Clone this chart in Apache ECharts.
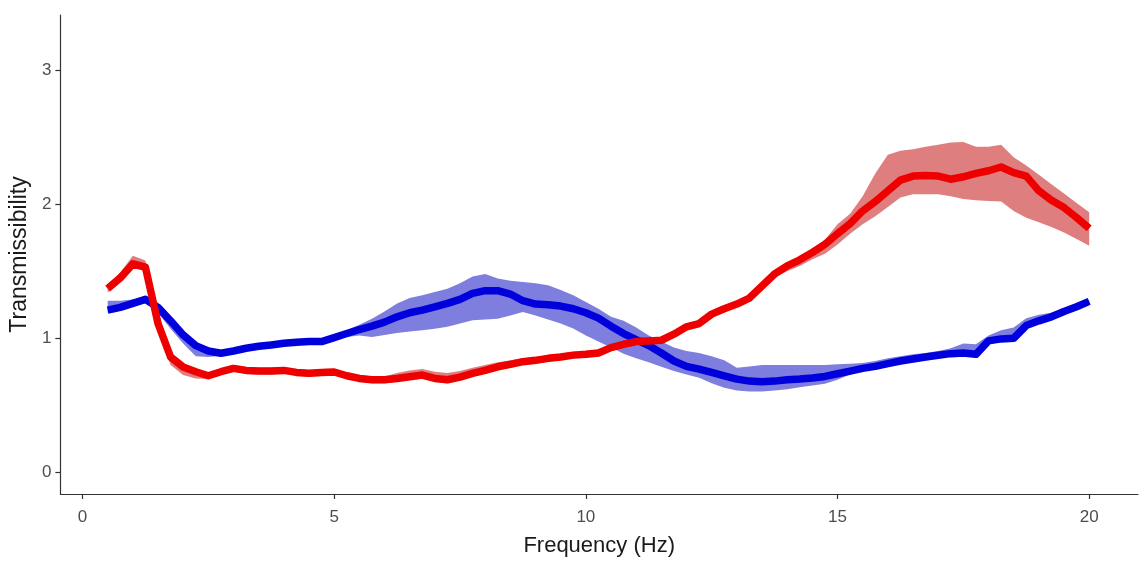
<!DOCTYPE html>
<html>
<head>
<meta charset="utf-8">
<script src="https://cdn.jsdelivr.net/npm/echarts@6/dist/echarts.min.js"></script>
<style>
  html, body { margin: 0; padding: 0; background: #ffffff; }
  #chart { width: 1139px; height: 562px; }
</style>
</head>
<body>
<div id="chart"></div>
<script>
// Frequency grid (Hz)
const freq = [
  0.5, 0.75, 1.0, 1.25, 1.5, 1.75, 2.0, 2.25, 2.5, 2.75,
  3.0, 3.25, 3.5, 3.75, 4.0, 4.25, 4.5, 4.75, 5.0, 5.25,
  5.5, 5.75, 6.0, 6.25, 6.5, 6.75, 7.0, 7.25, 7.5, 7.75,
  8.0, 8.25, 8.5, 8.75, 9.0, 9.25, 9.5, 9.75, 10.0, 10.25,
  10.5, 10.75, 11.0, 11.25, 11.5, 11.75, 12.0, 12.25, 12.5, 12.75,
  13.0, 13.25, 13.5, 13.75, 14.0, 14.25, 14.5, 14.75, 15.0, 15.25,
  15.5, 15.75, 16.0, 16.25, 16.5, 16.75, 17.0, 17.25, 17.5, 17.75,
  18.0, 18.25, 18.5, 18.75, 19.0, 19.25, 19.5, 19.75, 20.0
];

// Red group: mean transmissibility and its band
const redMean = [
  1.37, 1.45, 1.555, 1.53, 1.11, 0.86, 0.785, 0.75, 0.72, 0.75,
  0.775, 0.76, 0.755, 0.755, 0.76, 0.745, 0.738, 0.745, 0.748, 0.72,
  0.70, 0.69, 0.69, 0.70, 0.713, 0.725, 0.70, 0.69, 0.71, 0.738,
  0.76, 0.787, 0.805, 0.825, 0.835, 0.85, 0.86, 0.874, 0.88, 0.89,
  0.93, 0.955, 0.975, 0.98, 0.985, 1.03, 1.085, 1.11, 1.18, 1.22,
  1.255, 1.30, 1.39, 1.48, 1.54, 1.585, 1.64, 1.70, 1.78, 1.855,
  1.95, 2.02, 2.10, 2.18, 2.21, 2.215, 2.21, 2.187, 2.205, 2.23,
  2.25, 2.278, 2.236, 2.21, 2.10, 2.03, 1.975, 1.90, 1.82
];
const redUpper = [
  1.40, 1.49, 1.615, 1.58, 1.14, 0.885, 0.805, 0.77, 0.74, 0.775,
  0.80, 0.785, 0.78, 0.78, 0.785, 0.77, 0.762, 0.77, 0.772, 0.745,
  0.725, 0.715, 0.715, 0.74, 0.76, 0.77, 0.75, 0.74, 0.755, 0.78,
  0.80, 0.82, 0.835, 0.85, 0.86, 0.875, 0.885, 0.90, 0.905, 0.915,
  0.955, 0.98, 1.0, 1.005, 1.01, 1.055, 1.11, 1.135, 1.205, 1.245,
  1.28, 1.325, 1.415, 1.505, 1.565, 1.61, 1.67, 1.735, 1.85, 1.93,
  2.06, 2.23, 2.37, 2.40, 2.41, 2.43, 2.445, 2.46, 2.465, 2.43,
  2.43, 2.445, 2.35, 2.29, 2.22, 2.15, 2.08, 2.01, 1.94
];
const redLower = [
  1.34, 1.42, 1.525, 1.50, 1.05, 0.80, 0.725, 0.70, 0.695, 0.725,
  0.75, 0.735, 0.73, 0.73, 0.735, 0.72, 0.713, 0.72, 0.723, 0.695,
  0.675, 0.665, 0.665, 0.675, 0.688, 0.70, 0.675, 0.665, 0.685, 0.713,
  0.735, 0.762, 0.78, 0.80, 0.81, 0.825, 0.835, 0.849, 0.855, 0.865,
  0.905, 0.93, 0.95, 0.955, 0.96, 1.005, 1.06, 1.085, 1.155, 1.195,
  1.23, 1.275, 1.365, 1.45, 1.50, 1.54, 1.59, 1.63, 1.70, 1.78,
  1.85, 1.91, 1.98, 2.05, 2.075, 2.075, 2.075, 2.06, 2.04, 2.03,
  2.025, 2.02, 1.95, 1.90, 1.865, 1.83, 1.79, 1.74, 1.69
];

// Blue group: mean transmissibility and its band
const blueMean = [
  1.21, 1.23, 1.26, 1.29, 1.23, 1.13, 1.025, 0.945, 0.905, 0.888,
  0.905, 0.925, 0.94, 0.95, 0.962, 0.97, 0.975, 0.975, 1.005, 1.035,
  1.065, 1.09, 1.12, 1.16, 1.19, 1.21, 1.235, 1.26, 1.29, 1.335,
  1.355, 1.355, 1.33, 1.28, 1.255, 1.25, 1.24, 1.22, 1.19, 1.15,
  1.09, 1.035, 0.99, 0.945, 0.89, 0.83, 0.79, 0.77, 0.745, 0.72,
  0.695, 0.68, 0.675, 0.68, 0.69, 0.695, 0.703, 0.715, 0.735, 0.755,
  0.775, 0.79, 0.81, 0.83, 0.845, 0.86, 0.873, 0.885, 0.89, 0.88,
  0.98, 0.995, 1.0, 1.095, 1.13, 1.16, 1.20, 1.235, 1.275
];
const blueUpper = [
  1.28, 1.28, 1.29, 1.31, 1.25, 1.15, 1.04, 0.96, 0.92, 0.905,
  0.925, 0.945, 0.96, 0.97, 0.982, 0.99, 0.995, 0.995, 1.025, 1.06,
  1.10, 1.145, 1.20, 1.26, 1.30, 1.32, 1.345, 1.37, 1.41, 1.46,
  1.48, 1.445, 1.43, 1.42, 1.41, 1.395, 1.36, 1.32, 1.27, 1.22,
  1.16, 1.13, 1.08, 1.02, 0.975, 0.93, 0.905, 0.89, 0.865, 0.835,
  0.78, 0.79, 0.80, 0.80, 0.80, 0.80, 0.80, 0.80, 0.805, 0.81,
  0.815, 0.83, 0.85, 0.865, 0.88, 0.89, 0.905, 0.925, 0.96, 0.955,
  1.02, 1.06, 1.08, 1.15, 1.175, 1.19, 1.22, 1.25, 1.285
];
const blueLower = [
  1.19, 1.21, 1.24, 1.27, 1.19, 1.07, 0.96, 0.865, 0.86, 0.87,
  0.89, 0.91, 0.925, 0.935, 0.947, 0.955, 0.96, 0.96, 0.985, 1.01,
  1.02, 1.01, 1.025, 1.04, 1.05, 1.06, 1.07, 1.085, 1.11, 1.134,
  1.14, 1.146, 1.17, 1.196, 1.17, 1.14, 1.11, 1.072, 1.02, 0.975,
  0.93, 0.885, 0.85, 0.82, 0.787, 0.755, 0.73, 0.705, 0.665, 0.63,
  0.61, 0.603, 0.602, 0.61, 0.62, 0.635, 0.648, 0.66, 0.69, 0.73,
  0.755, 0.775, 0.795, 0.815, 0.83, 0.845, 0.858, 0.87, 0.875, 0.865,
  0.965, 0.98, 0.985, 1.08, 1.115, 1.145, 1.185, 1.22, 1.26
];

// Axis ticks
const xTicks = [0, 5, 10, 15, 20];
const yTicks = [0, 1, 2, 3];

const FONT = "'Liberation Sans', Arial, sans-serif";

function pairs(xs, ys) {
  return xs.map((x, i) => [x, ys[i]]);
}

// Confidence band drawn as one polygon through the axis scales
function bandSeries(name, lower, upper, fill) {
  return {
    name: name,
    type: 'custom',
    silent: true,
    z: 1,
    data: [[freq[0], lower[0]]],
    encode: { x: 0, y: 1 },
    renderItem: function (params, api) {
      const top = freq.map((f, i) => api.coord([f, upper[i]]));
      const bottom = freq.map((f, i) => api.coord([f, lower[i]])).reverse();
      return {
        type: 'polygon',
        shape: { points: top.concat(bottom) },
        style: { fill: fill }
      };
    }
  };
}

function lineSeries(name, values, color, z) {
  return {
    name: name,
    type: 'line',
    data: pairs(freq, values),
    showSymbol: false,
    symbol: 'none',
    smooth: false,
    z: z,
    silent: true,
    lineStyle: { color: color, width: 7.5, join: 'round', cap: 'butt' }
  };
}

const chart = echarts.init(document.getElementById('chart'), null, { renderer: 'canvas' });

chart.setOption({
  animation: false,
  backgroundColor: '#ffffff',
  grid: { left: 60, right: 1, top: 15, bottom: 66, containLabel: false },
  xAxis: {
    type: 'value',
    min: -0.44,
    max: 20.97,
    name: 'Frequency (Hz)',
    nameLocation: 'middle',
    nameGap: 41,
    nameTextStyle: { fontFamily: FONT, fontSize: 22, color: '#1a1a1a' },
    axisLine: { show: true, onZero: false, lineStyle: { color: '#333333', width: 1.2 } },
    axisTick: { show: true, length: 5, customValues: xTicks, lineStyle: { color: '#333333', width: 1.2 } },
    axisLabel: { customValues: xTicks, margin: 15, fontFamily: FONT, fontSize: 17, color: '#4d4d4d' },
    splitLine: { show: false }
  },
  yAxis: {
    type: 'value',
    min: -0.1625,
    max: 3.4125,
    name: 'Transmissibility',
    nameLocation: 'middle',
    nameGap: 27,
    nameTextStyle: { fontFamily: FONT, fontSize: 23, color: '#1a1a1a' },
    axisLine: { show: true, onZero: false, lineStyle: { color: '#333333', width: 1.2 } },
    axisTick: { show: true, length: 5, customValues: yTicks, lineStyle: { color: '#333333', width: 1.2 } },
    axisLabel: { customValues: yTicks, margin: 9, fontFamily: FONT, fontSize: 17, color: '#4d4d4d' },
    splitLine: { show: false }
  },
  series: [
    bandSeries('red band', redLower, redUpper, 'rgba(200, 40, 40, 0.6)'),
    bandSeries('blue band', blueLower, blueUpper, 'rgba(40, 40, 200, 0.6)'),
    lineSeries('blue', blueMean, '#0000dd', 3),
    lineSeries('red', redMean, '#ee0000', 4)
  ]
});
</script>
</body>
</html>
